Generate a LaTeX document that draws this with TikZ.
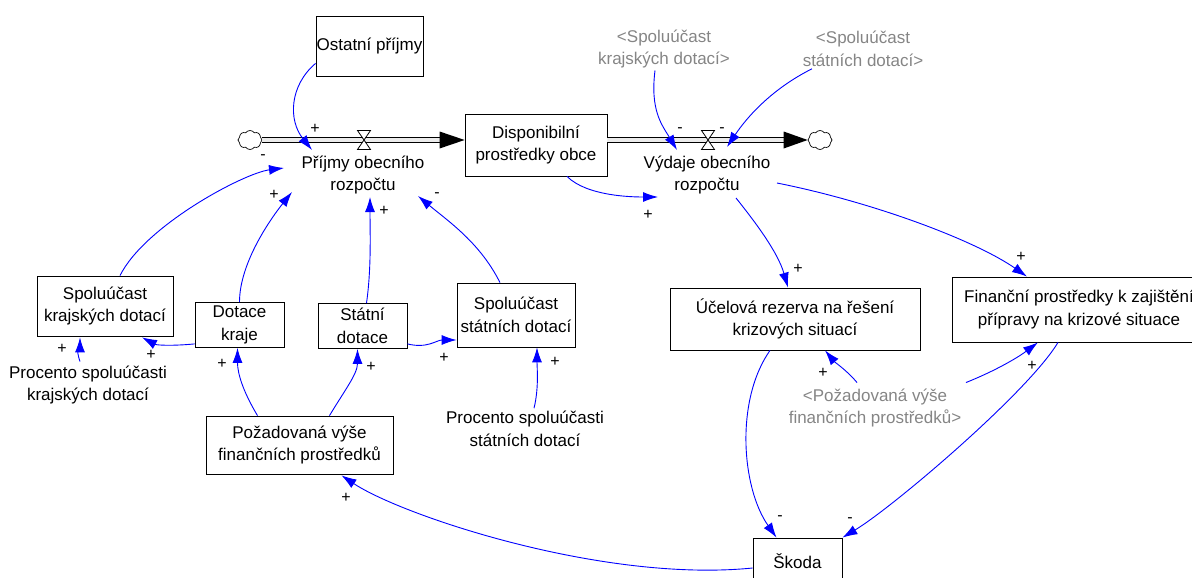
\documentclass[tikz,border=0pt]{standalone}
\usepackage{fontspec}
\setmainfont{Liberation Sans}
\usetikzlibrary{arrows.meta,shapes.symbols}
\tikzset{
  box/.style={draw=black, line width=0.8pt, align=center, inner sep=0pt},
  lbl/.style={align=center, inner sep=0pt},
  ghost/.style={lbl, text=black!48},
  link/.style={draw=blue, line width=0.9pt, -{Latex[length=15pt,width=10pt]}},
  pol/.style={font=\fontsize{16}{16}\selectfont, inner sep=0pt},
  pipe/.style={draw=black, double=black!8, double distance=3.4pt, line width=1.1pt},
  sink/.style={cloud, draw, cloud puffs=8, cloud puff arc=110, aspect=1.3, minimum width=24pt, minimum height=19pt, inner sep=0pt, line width=0.7pt},
  valve/.pic={\draw[fill=white, line width=0.8pt] (-6.5,-9.5) -- (6.5,-9.5) -- (-6.5,9.5) -- (6.5,9.5) -- cycle;}
}
\begin{document}
\begin{tikzpicture}[x=1pt,y=-1pt, font=\fontsize{17}{22.5}\selectfont]
\useasboundingbox (0,0) rectangle (1192,578);
\clip (0,0) rectangle (1192,578);

% ---- stocks / variables ----
\node[box, minimum width=107, minimum height=60] (ostatni) at (369.5,46) {Ostatní příjmy};
\node[box, minimum width=142, minimum height=62] (disp) at (536,145) {Disponibilní\\prostředky obce};
\node[lbl] (prijmy) at (363,175) {Příjmy obecního\\rozpočtu};
\node[lbl] (vydaje) at (707,175) {Výdaje obecního\\rozpočtu};
\node[ghost] (gsk) at (664,49) {<Spoluúčast\\krajských dotací>};
\node[ghost] (gss) at (863,49) {<Spoluúčast\\státních dotací>};
\node[box, minimum width=136, minimum height=60] (skd) at (105,306) {Spoluúčast\\krajských dotací};
\node[box, minimum width=89, minimum height=45] (dk) at (239.5,325) {Dotace\\kraje};
\node[box, minimum width=89, minimum height=45] (sd) at (362.5,326) {Státní\\dotace};
\node[box, minimum width=118, minimum height=64] (ssd) at (516,315) {Spoluúčast\\státních dotací};
\node[lbl] (pskd) at (88,385) {Procento spoluúčasti\\krajských dotací};
\node[lbl] (pssd) at (525,429) {Procento spoluúčasti\\státních dotací};
\node[box, minimum width=187, minimum height=58] (pvfp) at (299.5,445) {Požadovaná výše\\finančních prostředků};
\node[box, minimum width=250, minimum height=62] (ur) at (795,319) {Účelová rezerva na řešení\\krizových situací};
\node[box, minimum width=254, minimum height=65] (fp) at (1079,309.5) {Finanční prostředky k zajištění\\přípravy na krizové situace};
\node[ghost] (gpv) at (875,408) {<Požadovaná výše\\finančních prostředků>};
\node[box, minimum width=89, minimum height=46] (skoda) at (797.5,561) {Škoda};

% ---- flows ----
\node[sink] (c1) at (250,140) {};
\node[sink] (c2) at (820,140) {};
\draw[pipe] (c1.east) -- ([shift={(-20,0)}]c1 -| disp.west);
\fill (c1 -| disp.west) -- ++(-25,-8.5) -- ++(0,17) -- cycle;
\draw[pipe] (c2 -| disp.east) -- ([shift={(-20,0)}]c2.west);
\fill (c2.west) -- ++(-24,-8.5) -- ++(0,17) -- cycle;
\pic at (364,140) {valve};
\pic at (708,140) {valve};

% ---- links ----
\draw[link] ([shift={(0,-13)}]ostatni.south west) .. controls +(-26,22) and +(-24,-30) .. ([shift={(-51,-25)}]prijmy.center);
\draw[link] ([shift={(15,0)}]skd.north) .. controls +(25,-50) and +(-40,5) .. ([shift={(-79,-7)}]prijmy.center);
\draw[link] (dk.north) .. controls +(0,-40) and +(-20,25) .. ([shift={(-71,17)}]prijmy.center);
\draw[link] ([shift={(4,0)}]sd.north) .. controls +(5,-35) and +(0,35) .. ([shift={(7,22)}]prijmy.center);
\draw[link] ([shift={(-16,0)}]ssd.north) .. controls +(-20,-40) and +(30,25) .. ([shift={(55,21)}]prijmy.center);
\draw[link] ([shift={(0,-4)}]dk.south west) .. controls +(-20,2) and +(15,8) .. ([shift={(37,1)}]skd.south);
\draw[link] ([shift={(0,-5)}]sd.south east) .. controls +(20,5) and +(-20,0) .. ([shift={(0,25)}]ssd.west);
\draw[link] ([shift={(-8,-4)}]pskd.north) .. controls +(-5,-15) and +(0,12) .. ([shift={(-25,1)}]skd.south);
\draw[link] ([shift={(9,-3)}]pssd.north) .. controls +(5,-20) and +(0,20) .. ([shift={(21,0)}]ssd.south);
\draw[link] ([shift={(-42,0)}]pvfp.north) .. controls +(-15,-25) and +(0,25) .. ([shift={(-2,0)}]dk.south);
\draw[link] ([shift={(30,0)}]pvfp.north) .. controls +(15,-25) and +(0,25) .. ([shift={(-5,0)}]sd.south);
\draw[link] ([shift={(31,0)}]disp.south) .. controls +(20,20) and +(-25,0) .. ([shift={(-49,22)}]vydaje.center);
\draw[link] ([shift={(-9,2)}]gsk.south) .. controls +(-5,40) and +(-15,-25) .. ([shift={(-30,-25)}]vydaje.center);
\draw[link] ([shift={(-51,2)}]gss.south) .. controls +(-40,20) and +(20,-30) .. ([shift={(20,-28)}]vydaje.center);
\draw[link] ([shift={(70,8)}]vydaje.center) .. controls +(100,20) and +(-50,-35) .. ([shift={(-52,0)}]fp.north);
\draw[link] ([shift={(29,23)}]vydaje.center) .. controls +(20,25) and +(-10,-35) .. ([shift={(-7,0)}]ur.north);
\draw[link] ([shift={(-18,-6)}]gpv.north) .. controls +(-10,-12) and +(10,12) .. ([shift={(30,0)}]ur.south);
\draw[link] ([shift={(91,-6)}]gpv.north) .. controls +(30,-12) and +(-20,15) .. ([shift={(-41,0)}]fp.south);
\draw[link] ([shift={(-21,0)}]fp.south) .. controls +(-30,50) and +(50,-30) .. (skoda.north east);
\draw[link] ([shift={(-25,0)}]ur.south) .. controls +(-35,50) and +(-35,-50) .. ([shift={(-21,0)}]skoda.north);
\draw[link] ([shift={(0,7)}]skoda.west) .. controls +(-150,15) and +(60,40) .. ([shift={(42,1)}]pvfp.south);

% ---- polarities ----
\node[pol] (s1) at (315,129) {+};
\node[pol] (s2) at (263,157) {-};
\node[pol] (s3) at (274,195) {+};
\node[pol] (s4) at (384,211) {+};
\node[pol] (s5) at (437,195) {-};
\node[pol] (s6) at (151,355) {+};
\node[pol] (s7) at (444,358) {+};
\node[pol] (s8) at (62,349) {+};
\node[pol] (s9) at (555,362) {+};
\node[pol] (s10) at (222,364) {+};
\node[pol] (s11) at (371,367) {+};
\node[pol] (s12) at (648,215) {+};
\node[pol] (s13) at (680,130) {-};
\node[pol] (s14) at (722,130) {-};
\node[pol] (s15) at (1021,257) {+};
\node[pol] (s16) at (798,269) {+};
\node[pol] (s17) at (823,373) {+};
\node[pol] (s18) at (1032,366) {+};
\node[pol] (s19) at (850,520) {-};
\node[pol] (s20) at (780,518) {-};
\node[pol] (s21) at (346,498) {+};
\end{tikzpicture}
\end{document}
